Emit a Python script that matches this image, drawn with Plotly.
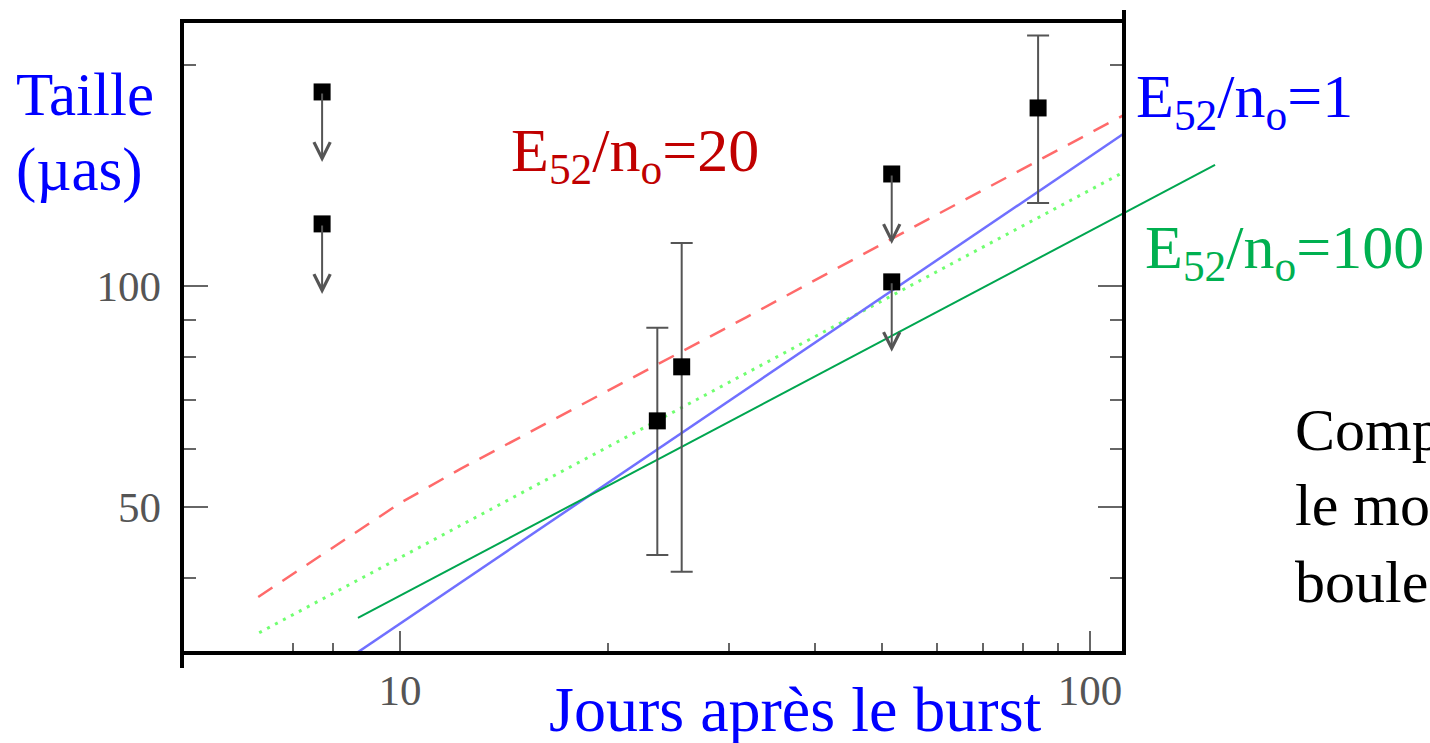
import math
import plotly.graph_objects as go

# ---------------- data ----------------
# upper limits (arrows)
lim_days = [7.71, 7.71, 51.6, 51.6]
lim_size = [183.8, 121.5, 142.1, 101.3]
# detections with error bars
det_days = [23.6, 25.6, 84.1]
det_size = [65.5, 77.6, 174.8]
det_hi = [87.7, 114.4, 219.4]
det_lo = [43.0, 40.8, 129.7]
# model curves
m20_days = [6.23, 10.0, 12.22, 31.8, 54.5, 112.0]
m20_size = [37.7, 50.6, 56.3, 90.7, 119.2, 171.0]
m100d_days = [6.25, 112.0]
m100d_size = [33.7, 143.0]
m100_days = [8.69, 151.8]
m100_size = [35.3, 146.2]
m1_days = [8.6, 112.0]
m1_size = [31.5, 161.3]

x_major = [10, 100]
x_minor = [7, 8, 20, 30, 40, 50, 60, 70, 80, 90]
y_major = [50, 100]
y_minor = [40, 60, 70, 80, 90, 200]

# ---------------- layout geometry ----------------
WIDTH, HEIGHT = 1430, 743
L, R, T, B = 182, 1225, 21, 653
PW, PH = R - L, B - T
XR = [0.684, 2.1957]
YR = [1.5, 2.361]
AXIS_RIGHT_PX = 1124
ARROW_PX = 70


def px_x(p):
    return (p - L) / PW


def px_y(p):
    return (B - p) / PH


SERIF = "Liberation Serif, Times New Roman, serif"
BLUE = "#0000FF"
RED = "#C00000"
GREEN = "#00B050"
TICKC = "#666666"

fig = go.Figure()

fig.add_trace(go.Scatter(x=m20_days, y=m20_size, mode="lines",
                         line=dict(color="#FF6A6A", width=2.5, dash="17px,12px")))
fig.add_trace(go.Scatter(x=m100d_days, y=m100d_size, mode="lines",
                         line=dict(color="#70FF70", width=3, dash="3px,6px")))
fig.add_trace(go.Scatter(x=m1_days, y=m1_size, mode="lines",
                         line=dict(color="#7070FF", width=2.5)))
fig.add_trace(go.Scatter(x=m100_days, y=m100_size, mode="lines",
                         line=dict(color="#00A650", width=2), cliponaxis=False))

fig.add_trace(go.Scatter(
    x=det_days, y=det_size, mode="markers",
    marker=dict(symbol="square", size=17, color="black"),
    error_y=dict(type="data", symmetric=False,
                 array=[h - v for h, v in zip(det_hi, det_size)],
                 arrayminus=[v - l for v, l in zip(det_size, det_lo)],
                 color="#555555", thickness=2, width=11)))

fig.add_trace(go.Scatter(
    x=lim_days, y=lim_size, mode="markers",
    marker=dict(symbol="square", size=17, color="black")))

# invisible trace for the right-hand tick axis
fig.add_trace(go.Scatter(x=det_days, y=det_size, yaxis="y2", mode="markers",
                         marker=dict(opacity=0), hoverinfo="skip"))

annotations = []
dlog = ARROW_PX * (YR[1] - YR[0]) / PH
for d, s in zip(lim_days, lim_size):
    annotations.append(dict(
        x=math.log10(d), y=math.log10(s) - dlog, xref="x", yref="y",
        ax=math.log10(d), ay=math.log10(s), axref="x", ayref="y",
        showarrow=True, arrowhead=5, arrowsize=1.6, arrowwidth=2,
        arrowcolor="#555555", text=""))


def label(text, x, y, color, size, anchor="left"):
    annotations.append(dict(
        text=text, x=px_x(x), y=px_y(y), xref="paper", yref="paper",
        xanchor=anchor, yanchor="middle", showarrow=False,
        font=dict(family=SERIF, size=size, color=color)))


label("Taille", 14, 95, BLUE, 61)
label("(µas)", 14, 170, BLUE, 61)
label("E<sub>52</sub>/n<sub>o</sub>=20", 509, 154, RED, 62)
label("E<sub>52</sub>/n<sub>o</sub>=1", 1134, 100, BLUE, 62)
label("E<sub>52</sub>/n<sub>o</sub>=100", 1143, 252, GREEN, 62)
label("Jours après le burst", 795, 709, BLUE, 64, anchor="center")
label("Comparaison avec", 1293, 430, "black", 60)
label("le modèle de la", 1293, 505, "black", 60)
label("boule de feu", 1293, 582, "black", 60)

xr_px = px_x(AXIS_RIGHT_PX)
shapes = [
    dict(type="line", xref="paper", yref="paper", x0=0, x1=0,
         y0=px_y(668), y1=px_y(19), line=dict(color="black", width=4)),
    dict(type="line", xref="paper", yref="paper", x0=0, x1=xr_px,
         y0=px_y(21), y1=px_y(21), line=dict(color="black", width=4)),
    dict(type="line", xref="paper", yref="paper", x0=0, x1=xr_px,
         y0=px_y(653), y1=px_y(653), line=dict(color="black", width=4)),
    dict(type="line", xref="paper", yref="paper", x0=xr_px, x1=xr_px,
         y0=px_y(655), y1=px_y(10), line=dict(color="black", width=4)),
]

tickfont = dict(family=SERIF, size=43, color="#555555")

fig.update_layout(
    width=WIDTH, height=HEIGHT,
    margin=dict(l=L, r=WIDTH - R, t=T, b=HEIGHT - B, pad=0),
    paper_bgcolor="white", plot_bgcolor="white",
    showlegend=False, hovermode=False,
    annotations=annotations, shapes=shapes,
    xaxis=dict(type="log", range=XR, showgrid=False, zeroline=False,
               showline=False, tickmode="array", tickvals=x_major,
               ticktext=[str(v) for v in x_major],
               ticks="inside", ticklen=22, tickwidth=2, tickcolor=TICKC,
               tickfont=tickfont, ticklabelstandoff=8,
               minor=dict(tickmode="array", tickvals=x_minor, ticks="inside",
                          ticklen=10, tickwidth=2, tickcolor=TICKC, showgrid=False)),
    yaxis=dict(type="log", range=YR, showgrid=False, zeroline=False,
               showline=False, tickmode="array", tickvals=y_major,
               ticktext=[str(v) for v in y_major],
               ticks="inside", ticklen=26, tickwidth=2, tickcolor=TICKC,
               tickfont=tickfont, ticklabelstandoff=20,
               minor=dict(tickmode="array", tickvals=y_minor, ticks="inside",
                          ticklen=14, tickwidth=2, tickcolor=TICKC, showgrid=False)),
    yaxis2=dict(type="log", range=YR, overlaying="y", side="right",
                anchor="free", position=xr_px, showgrid=False, zeroline=False,
                showline=False, showticklabels=False, tickmode="array",
                tickvals=y_major, ticks="inside", ticklen=26, tickwidth=2,
                tickcolor=TICKC,
                minor=dict(tickmode="array", tickvals=y_minor, ticks="inside",
                           ticklen=14, tickwidth=2, tickcolor=TICKC, showgrid=False)),
)

fig.write_html("out.html")
